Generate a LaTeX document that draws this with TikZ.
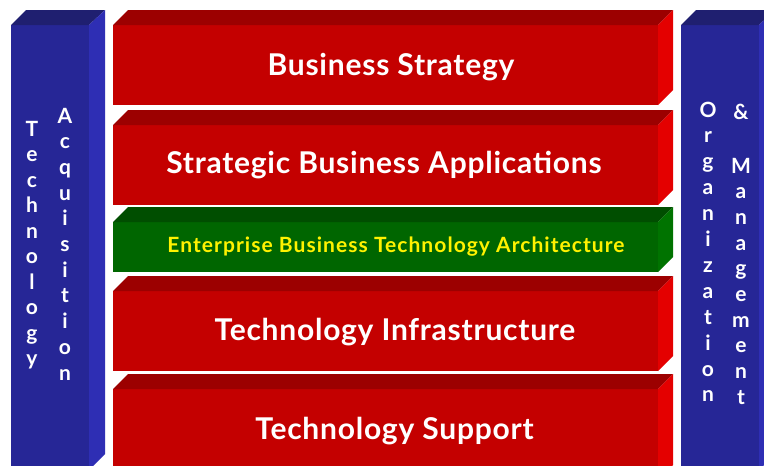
\documentclass[tikz,border=0pt]{standalone}
\usepackage{fontspec}
\setmainfont{Lato}
\usepackage{xcolor}

\definecolor{redfront}{HTML}{C40000}
\definecolor{redtop}{HTML}{9C0000}
\definecolor{redside}{HTML}{E40000}
\definecolor{greenfront}{HTML}{006600}
\definecolor{greentop}{HTML}{004E00}
\definecolor{greenside}{HTML}{007300}
\definecolor{bluefront}{HTML}{262696}
\definecolor{bluetop}{HTML}{1F1F70}
\definecolor{blueside}{HTML}{2E2EB4}

\begin{document}
\begin{tikzpicture}[x=1pt, y=-1pt,
    layertext/.style={font=\bfseries\fontsize{30}{30}\selectfont\addfontfeatures{LetterSpace=2.5},
        text=white, anchor=base, inner sep=0pt},
    letter/.style={font=\bfseries\fontsize{21}{21}\selectfont, text=white, anchor=base, inner sep=0pt}]
    \useasboundingbox (0,0) rectangle (764,466);
    \clip (0,0) rectangle (764,466);
    \fill[white] (0,0) rectangle (764,466);

    % Left column
    \fill[bluefront] (11,25) rectangle (89,470);
    \fill[bluetop] (11,25) -- (26,10) -- (105,10) -- (89,25) -- cycle;
    \fill[blueside] (89,25) -- (105,10) -- (105,454) -- (89,470) -- cycle;
    \foreach \ch [count=\i from 0] in {T,e,c,h,n,o,l,o,g,y}
        \node[letter] (tech-\i) at (32, 136+25.5*\i) {\ch};
    \foreach \ch [count=\i from 0] in {A,c,q,u,i,s,i,t,i,o,n}
        \node[letter] (acq-\i) at (65, 123+25.7*\i) {\ch};

    % Right column
    \fill[bluefront] (681,25) rectangle (759,470);
    \fill[bluetop] (681,25) -- (696,10) -- (775,10) -- (759,25) -- cycle;
    \fill[blueside] (759,25) -- (775,10) -- (775,454) -- (759,470) -- cycle;
    \foreach \ch [count=\i from 0] in {O,r,g,a,n,i,z,a,t,i,o,n}
        \node[letter] (org-\i) at (708, 117+25.9*\i) {\ch};
    \node[letter] (amp) at (741, 119) {\&};
    \foreach \ch [count=\i from 0] in {M,a,n,a,g,e,m,e,n,t}
        \node[letter] (mgmt-\i) at (741, 173+25.7*\i) {\ch};

    % Layer 1
    \fill[redfront] (113,25) rectangle (658,105);
    \fill[redtop] (113,25) -- (128,10) -- (673,10) -- (658,25) -- cycle;
    \fill[redside] (658,25) -- (673,10) -- (673,90) -- (658,105) -- cycle;
    \node[layertext] (strategy) at (391,75) {Business Strategy};

    % Layer 2
    \fill[redfront] (113,125) rectangle (658,205);
    \fill[redtop] (113,125) -- (128,110) -- (673,110) -- (658,125) -- cycle;
    \fill[redside] (658,125) -- (673,110) -- (673,190) -- (658,205) -- cycle;
    \node[layertext] (apps) at (384,173) {Strategic Business Applications};

    % Layer 3
    \fill[greenfront] (113,222) rectangle (658,272);
    \fill[greentop] (113,222) -- (128,207) -- (673,207) -- (658,222) -- cycle;
    \fill[greenside] (658,222) -- (673,207) -- (673,257) -- (658,272) -- cycle;
    \node[layertext, text=yellow,
        font=\bfseries\fontsize{21}{21}\selectfont\addfontfeatures{LetterSpace=5}] (arch) at (396,252)
        {Enterprise Business Technology Architecture};

    % Layer 4
    \fill[redfront] (113,291) rectangle (658,371);
    \fill[redtop] (113,291) -- (128,276) -- (673,276) -- (658,291) -- cycle;
    \fill[redside] (658,291) -- (673,276) -- (673,356) -- (658,371) -- cycle;
    \node[layertext] (infra) at (395,340) {Technology Infrastructure};

    % Layer 5
    \fill[redfront] (113,389) rectangle (658,480);
    \fill[redtop] (113,389) -- (128,374) -- (673,374) -- (658,389) -- cycle;
    \fill[redside] (658,389) -- (673,374) -- (673,465) -- (658,480) -- cycle;
    \node[layertext] (support) at (394.5,439) {Technology Support};
\end{tikzpicture}
\end{document}
